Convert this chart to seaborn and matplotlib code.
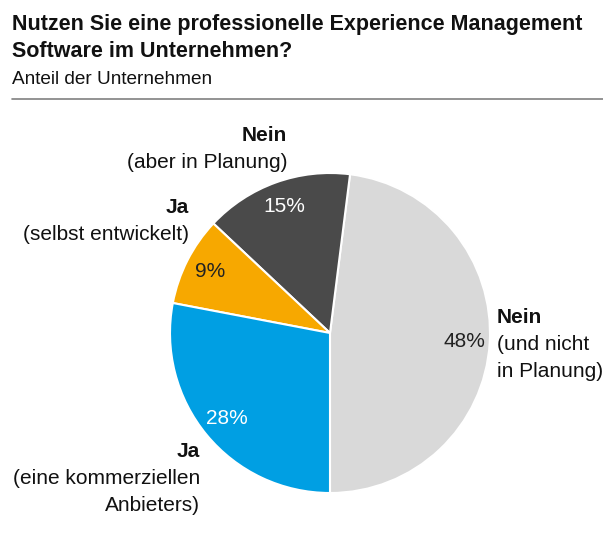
import matplotlib
matplotlib.use("Agg")
from matplotlib import pyplot as plt
import seaborn as sns

sns.set_theme(style="white")
plt.rcParams["font.family"] = ["Liberation Sans", "DejaVu Sans"]

# data
categories = ["Nein (und nicht in Planung)", "Nein (aber in Planung)",
              "Ja (selbst entwickelt)", "Ja (eine kommerziellen Anbieters)"]
shares = [48, 15, 9, 28]
colors = ["#d9d9d9", "#4a4a4a", "#f7a800", "#009fe3"]
pct_colors = ["#222222", "white", "#222222", "white"]
heads = ["Nein", "Nein", "Ja", "Ja"]
details = [["(und nicht", "in Planung)"], ["(aber in Planung)"],
           ["(selbst entwickelt)"], ["(eine kommerziellen", "Anbieters)"]]

W, H = 603, 541
CX, CY, R = 330, 333, 160
FS = 15

fig = plt.figure(figsize=(W / 100, H / 100), dpi=100)
ax = fig.add_axes([0, 0, 1, 1])

wedges, texts, autotexts = ax.pie(
    shares, colors=colors, startangle=270, counterclock=True,
    autopct="%d%%", pctdistance=0.84, radius=1,
    wedgeprops=dict(edgecolor="white", linewidth=1.5),
    textprops=dict(fontsize=FS),
)
for t, c in zip(autotexts, pct_colors):
    t.set_color(c)

ax.set_xlim(-CX / R, (W - CX) / R)
ax.set_ylim((CY - H) / R, CY / R)
ax.set_aspect("auto")
ax.axis("off")


def px(x, y):
    return (x - CX) / R, (CY - y) / R


# outer labels: (x, y of head baseline, alignment)
label_pos = [(497, 323, "left"), (287, 141, "right"),
             (189, 213, "right"), (200, 457, "right")]
for head, det, (x, y, ha) in zip(heads, details, label_pos):
    hx, hy = px(x, y)
    ax.text(hx, hy, head, fontsize=FS, fontweight="bold", ha=ha,
            va="baseline", color="#111111")
    for i, line in enumerate(det):
        dx, dy = px(x, y + 27 * (i + 1))
        ax.text(dx, dy, line, fontsize=FS, ha=ha, va="baseline",
                color="#111111")

# title block
fig.text(12 / W, 1 - 30 / H, "Nutzen Sie eine professionelle Experience Management",
         fontsize=15.5, fontweight="bold", va="baseline", color="#111111")
fig.text(12 / W, 1 - 57 / H, "Software im Unternehmen?",
         fontsize=15.5, fontweight="bold", va="baseline", color="#111111")
fig.text(12 / W, 1 - 84 / H, "Anteil der Unternehmen",
         fontsize=13.7, va="baseline", color="#111111")
fig.add_artist(plt.Line2D([12 / W, 1], [1 - 99 / H, 1 - 99 / H],
                          color="#808080", linewidth=1.2))

plt.savefig("out.png", dpi=100)
